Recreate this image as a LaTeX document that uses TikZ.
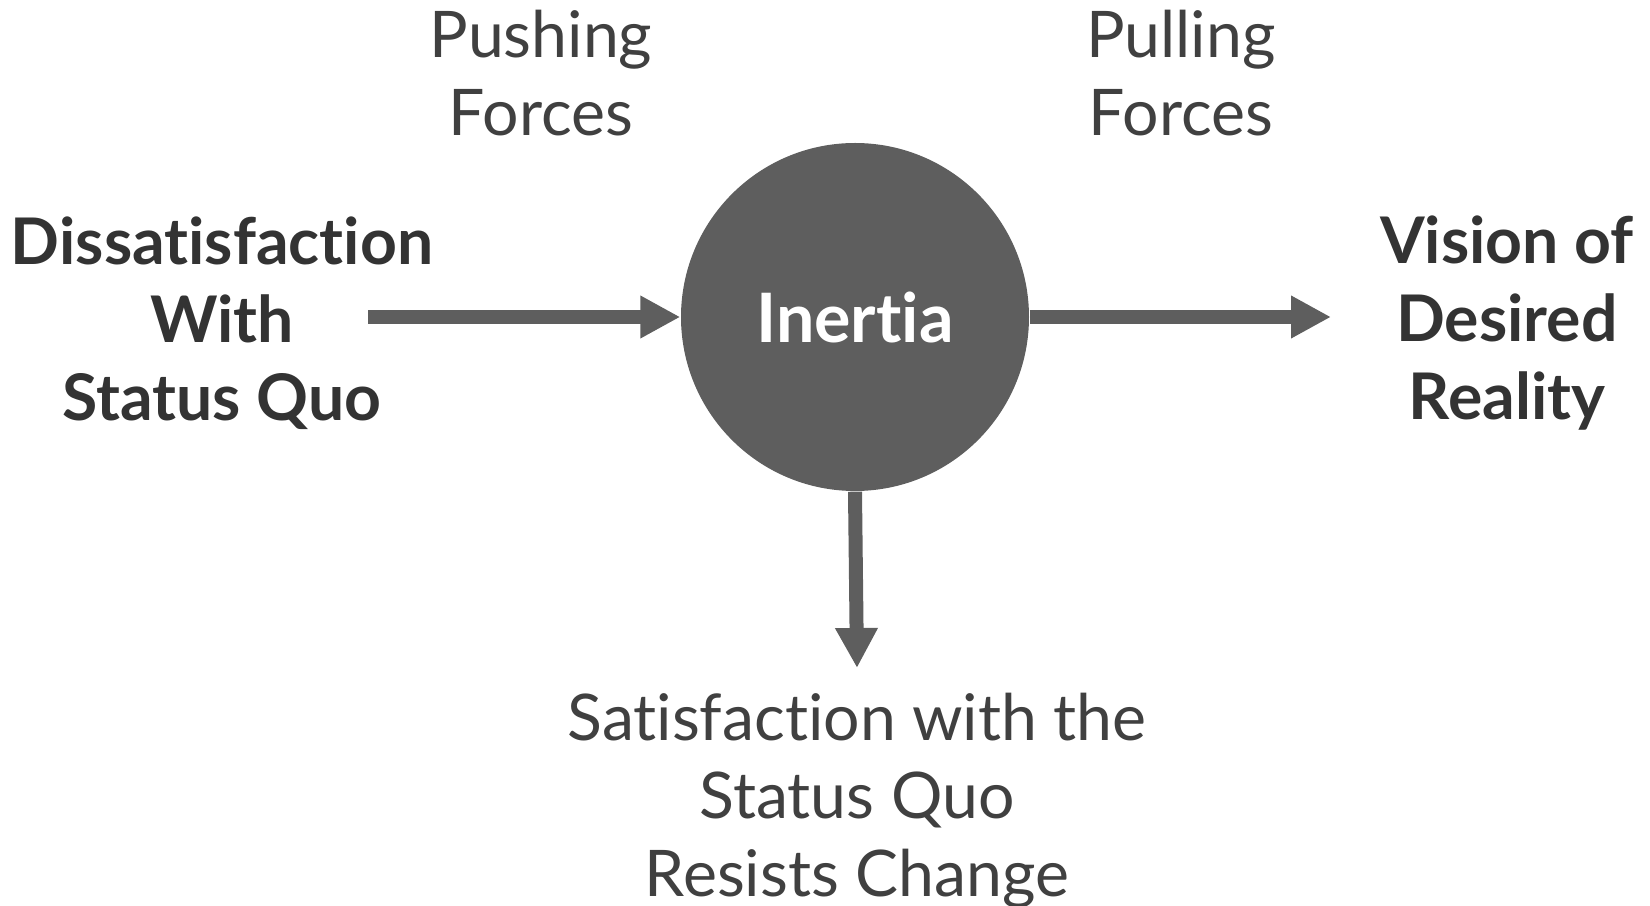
\documentclass[tikz,border=0pt]{standalone}
\usepackage{fontspec}
\setmainfont{Lato}[Ligatures={NoCommon,NoRare}]
\usetikzlibrary{arrows.meta}

\definecolor{forza}{HTML}{5E5E5E}
\definecolor{testo}{HTML}{333333}
\definecolor{testochiaro}{HTML}{404040}

\tikzset{
	forza/.style={draw=forza, line width=0.14cm, -{Triangle[length=0.4cm, width=0.4cm]}},
	titolo/.style={align=center, text=testo, font=\fontsize{18.3}{22.2}\selectfont\bfseries},
	etichetta/.style={align=center, text=testochiaro, font=\fontsize{18.3}{22.2}\selectfont}
}

\begin{document}
\begin{tikzpicture}
			\useasboundingbox (0,0) rectangle (16.5,9.06);

			% Definisci i nodi
			\node[circle, fill=forza, minimum size=3.48cm, inner sep=0pt, text=white, font=\fontsize{19.4}{22.2}\selectfont\bfseries] (I) at (8.55,5.89) {Inertia};

			\node[titolo] (S) at (2.22,5.83) {Dissatisfaction\\With\\Status Quo};
			\node[titolo] (V) at (15.07,5.83) {Vision of\\Desired\\Reality};

			\node[etichetta] (P1) at (5.41,8.33) {Pushing\\Forces};
			\node[etichetta] (P2) at (11.81,8.33) {Pulling\\Forces};

			\node[etichetta] (R) at (8.57,1.05) {Satisfaction with the\\Status Quo\\Resists Change};

			\coordinate (a) at (3.68,5.89);
			\coordinate (b) at (13.31,5.89);
			\coordinate (c) at (8.57,2.38);

			% Collega i nodi
			\draw[forza] (a) -- (I.west);
			\draw[forza] (I.east) -- (b);
			\draw[forza] (I.south) -- (c);
		\end{tikzpicture}
\end{document}
